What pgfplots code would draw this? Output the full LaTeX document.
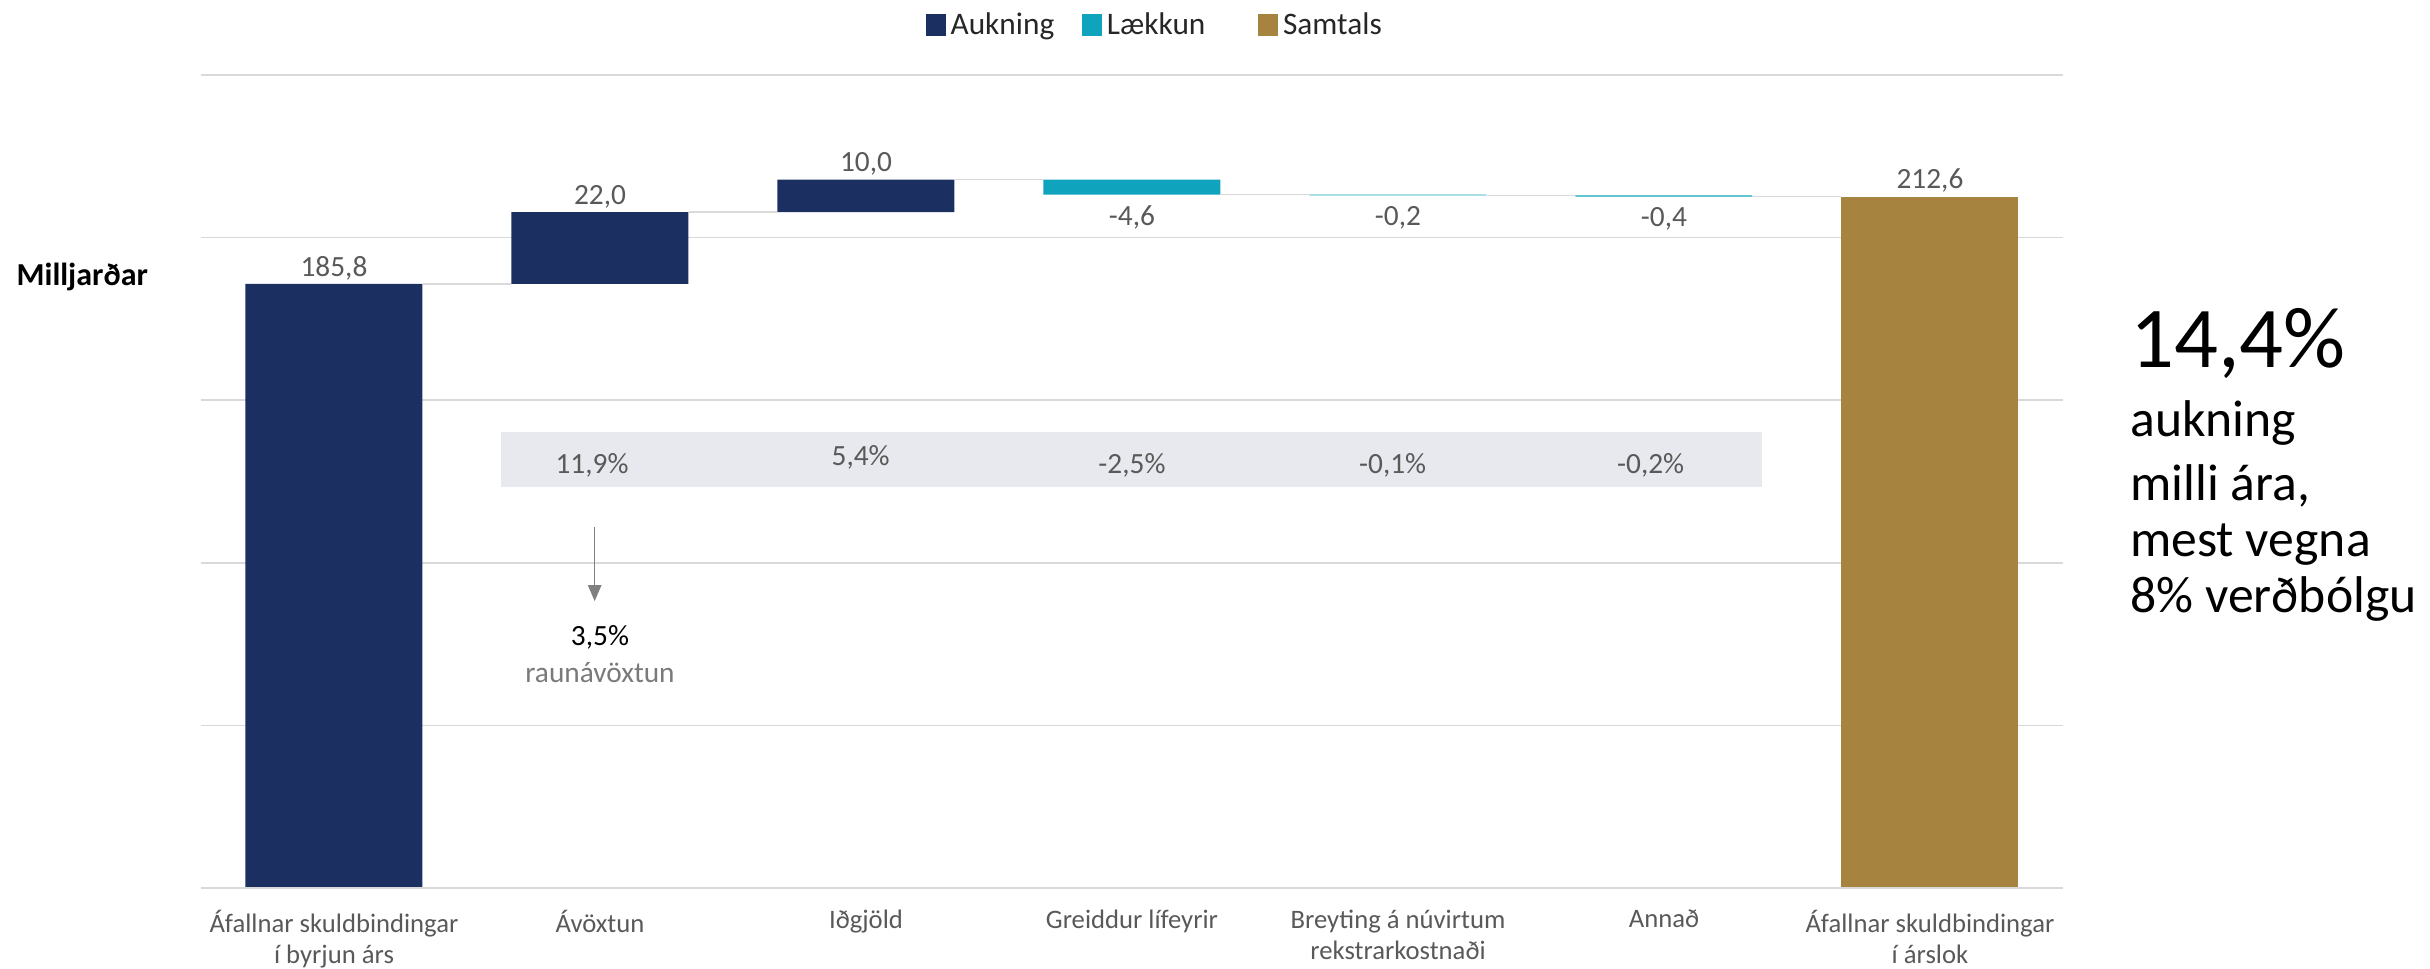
\documentclass[border=0pt]{standalone}
\usepackage{pgfplots}
\pgfplotsset{compat=1.18}
\usepackage{fontspec}
\setmainfont{Carlito}
\usetikzlibrary{arrows.meta}
\definecolor{navy}{HTML}{1B3061}
\definecolor{lteal}{HTML}{0FA3BD}
\definecolor{gold}{HTML}{A6833F}
\definecolor{lbl}{HTML}{595959}
\definecolor{gridc}{HTML}{D9D9D9}
\definecolor{bandc}{HTML}{E8E9EE}
\definecolor{arrc}{HTML}{808080}
\pgfplotsset{common/.style={width=558.6pt, height=243.9pt, scale only axis,
  xmin=-0.5, xmax=6.5, ymin=0, ymax=250, clip=false}}
\begin{document}
\begin{tikzpicture}
\begin{axis}[common, ybar stacked, bar width=53.1pt,
  axis line style={draw=none}, tick style={draw=none}, major tick length=0pt,
  ytick={50,100,150,200,250}, yticklabels={}, ymajorgrids,
  major grid style={gridc, line width=0.45pt},
  xtick={0,1,2,3,4,5,6},
  xticklabels={{Áfallnar skuldbindingar\\í byrjun árs},{Ávöxtun},{Iðgjöld},{Greiddur lífeyrir},{Breyting á núvirtum\\rekstrarkostnaði},{Annað},{Áfallnar skuldbindingar\\í árslok}},
  x tick label style={align=center, font=\fontsize{8}{9.3}\selectfont, text=lbl, yshift=-3pt},
  legend columns=-1,
  legend style={at={(0.513,1)}, anchor=center, yshift=14.7pt, draw=none, fill=none,
    font=\fontsize{9.4}{11}\selectfont, text=black!85,
    nodes={inner sep=1.5pt},
    /tikz/every even column/.append style={column sep=6.8pt}},
]
\coordinate (ll) at (rel axis cs:0,0);
\addplot[fill=none, draw=none, forget plot] coordinates {(0,0) (1,185.8) (2,207.8) (3,213.2) (4,213.0) (5,212.6) (6,0)};
\addplot[fill=navy, draw=none, legend image code/.code={\fill[navy] (0pt,-3pt) rectangle (6pt,3.5pt);}] coordinates {(0,185.8) (1,22.0) (2,10.0) (3,0) (4,0) (5,0) (6,0)};
\addlegendentry{Aukning}
\addplot[fill=lteal, draw=none, legend image code/.code={\fill[lteal] (0pt,-3pt) rectangle (6pt,3.5pt);}] coordinates {(0,0) (1,0) (2,0) (3,4.6) (4,0.2) (5,0.4) (6,0)};
\addlegendentry{Lækkun\kern7.5pt\relax}
\addplot[fill=gold, draw=none, legend image code/.code={\fill[gold] (0pt,-3pt) rectangle (6pt,3.5pt);}] coordinates {(0,0) (1,0) (2,0) (3,0) (4,0) (5,0) (6,212.6)};
\addlegendentry{Samtals}
\end{axis}
\begin{axis}[common, axis lines=none, xtick=\empty, ytick=\empty]
\draw[gridc, line width=0.75pt] (rel axis cs:0,0) -- (rel axis cs:1,0);
% connectors
\addplot[gridc, line width=0.45pt, unbounded coords=jump] coordinates {
 (0.333,185.8) (0.667,185.8) (0.8,nan)
 (1.333,207.8) (1.667,207.8) (1.8,nan)
 (2.333,217.8) (2.667,217.8) (2.8,nan)
 (3.333,213.2) (3.667,213.2) (3.8,nan)
 (4.333,213.0) (4.667,213.0) (4.8,nan)
 (5.333,212.6) (5.667,212.6)};
% band
\addplot[fill=bandc, draw=none] coordinates {(0.626,123.3) (5.368,123.3) (5.368,140.2) (0.626,140.2)} -- cycle;
% value labels above
\addplot[draw=none, nodes near coords, point meta=explicit symbolic,
  nodes near coords style={anchor=south, inner sep=1pt, font=\fontsize{8.8}{10}\selectfont, text=lbl}]
  table[row sep=\\, meta=lab] {x y lab\\ 0 185.8 185,8\\ 1 207.8 22,0\\ 2 217.8 10,0\\ 6 212.6 212,6\\};
% value labels below
\addplot[draw=none, nodes near coords, point meta=explicit symbolic,
  nodes near coords style={anchor=north, inner sep=3pt, font=\fontsize{8.8}{10}\selectfont, text=lbl}]
  table[row sep=\\, meta=lab] {x y lab\\ 3 213.2 -4,6\\ 4 213.0 -0,2\\ 5 212.6 -0,4\\};
% percentages
\addplot[draw=none, nodes near coords, point meta=explicit symbolic,
  nodes near coords style={anchor=center, inner sep=0pt, font=\fontsize{8.8}{10}\selectfont, text=lbl}]
  table[row sep=\\, meta=lab] {x y lab\\ 0.97 130.1 11,9\%\\ 1.98 132.5 5,4\%\\ 3.0 130.1 -2,5\%\\ 3.98 130.1 -0,1\%\\ 4.95 130.1 -0,2\%\\};
\draw[arrc, line width=0.45pt, -{Triangle[length=4.8pt,width=4pt]}] (axis cs:0.98,111) -- (axis cs:0.98,88.2);
\node[font=\fontsize{8.8}{10}\selectfont, text=black] at (axis cs:1.0,77.2) {3,5\%};
\node[font=\fontsize{8.8}{10}\selectfont, text=lbl!80] at (axis cs:1.0,66.1) {raunávöxtun};
\node[anchor=west, font=\bfseries\fontsize{9.6}{11}\selectfont, inner sep=0pt] at ([xshift=-55.5pt]axis cs:-0.5,187.9) {Milljarðar};
\node[anchor=base west, inner sep=0pt, font=\fontsize{26}{30}\selectfont] at ([xshift=20pt]axis cs:6.5,160.2) {14,4\%};
\node[anchor=base west, inner sep=0pt, font=\fontsize{15.5}{18}\selectfont] at ([xshift=20pt]axis cs:6.5,138.7) {aukning};
\node[anchor=base west, inner sep=0pt, font=\fontsize{15.5}{18}\selectfont] at ([xshift=20pt]axis cs:6.5,119.3) {milli ára,};
\node[anchor=base west, inner sep=0pt, font=\fontsize{15.5}{18}\selectfont] at ([xshift=20pt]axis cs:6.5,101.8) {mest vegna};
\node[anchor=base west, inner sep=0pt, font=\fontsize{15.5}{18}\selectfont] at ([xshift=20pt]axis cs:6.5,84.6) {8\% verðbólgu};
\end{axis}
\pgfresetboundingbox
\path ([shift={(-60.3pt,-24.3pt)}]ll) rectangle ([shift={(668.7pt,266.4pt)}]ll);
\end{tikzpicture}
\end{document}
